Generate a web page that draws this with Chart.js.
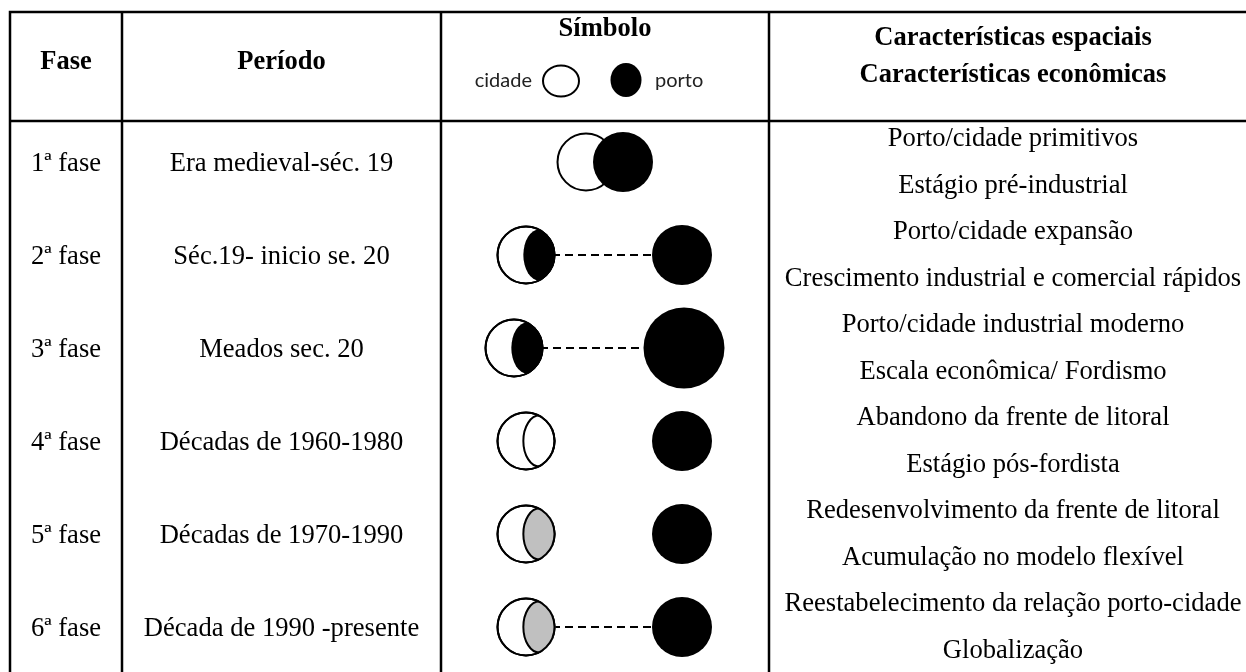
<!DOCTYPE html>
<html lang="pt">
<head>
<meta charset="utf-8">
<title>Fases da relação porto-cidade</title>
<script src="https://cdn.jsdelivr.net/npm/chart.js@4.4.1/dist/chart.umd.min.js"></script>
<style>
  html, body { margin: 0; padding: 0; background: #fff; }
  canvas { display: block; }
</style>
</head>
<body>
<canvas id="tabela" width="1246" height="672"></canvas>
<script>
// dados
const fases = ['1ª fase', '2ª fase', '3ª fase', '4ª fase', '5ª fase', '6ª fase'];
const periodos = ['Era medieval-séc. 19', 'Séc.19- inicio se. 20', 'Meados sec. 20',
                  'Décadas de 1960-1980', 'Décadas de 1970-1990', 'Década de 1990 -presente'];
const espaciais = ['Porto/cidade primitivos', 'Porto/cidade expansão', 'Porto/cidade industrial moderno',
                   'Abandono da frente de litoral', 'Redesenvolvimento da frente de litoral',
                   'Reestabelecimento da relação porto-cidade'];
const economicas = ['Estágio pré-industrial', 'Crescimento industrial e comercial rápidos',
                    'Escala econômica/ Fordismo', 'Estágio pós-fordista',
                    'Acumulação no modelo flexível', 'Globalização'];
// posição da cidade e do porto no eixo do símbolo (0 = meio da coluna)
const cidadeX = [-19, -79, -91, -79, -79, -79];
const portoX = [18, 77, 79, 77, 77, 77];
const portoTamanho = [1, 1, 1.35, 1, 1, 1];
const ligacao = [false, true, true, false, false, true];
const miolo = ['nenhum', 'preto', 'preto', 'contorno', 'cinza', 'cinza'];

const serif = "'Liberation Serif', 'Times New Roman', serif";
const raioCidade = 28.5;
const raioPorto = 30;

// linhas da tabela (px)
const bordaEsq = 10, bordaTopo = 12, fimCabecalho = 121;
const colunas = [122, 441, 769];
const centroFase = 66, centroPeriodo = 281.5, centroSimbolo = 605, centroCarac = 1013;

const linhasTabela = fases.map((f, i) => i);

const datasets = [];
linhasTabela.filter(i => ligacao[i]).forEach(i => {
  datasets.push({
    label: 'ligação ' + fases[i],
    data: [{ x: cidadeX[i], y: i }, { x: portoX[i], y: i }],
    showLine: true,
    borderColor: '#000',
    borderWidth: 2,
    borderDash: [8, 5],
    pointRadius: 0,
    order: 3
  });
});
datasets.push({
  label: 'cidade',
  data: linhasTabela.map(i => ({ x: cidadeX[i], y: i })),
  pointRadius: raioCidade,
  pointHoverRadius: raioCidade,
  backgroundColor: '#fff',
  borderColor: '#000',
  borderWidth: 2,
  order: 2
});
datasets.push({
  label: 'porto',
  data: linhasTabela.map(i => ({ x: portoX[i], y: i })),
  pointRadius: portoTamanho.map(t => t * raioPorto),
  pointHoverRadius: portoTamanho.map(t => t * raioPorto),
  backgroundColor: '#000',
  borderWidth: 0,
  order: 1
});

function texto(ctx, s, x, y, fonte) {
  ctx.font = fonte;
  ctx.fillText(s, x, y);
}

const tabela = {
  id: 'tabela',
  beforeDatasetsDraw(chart) {
    const ctx = chart.ctx;
    const y = chart.scales.y;
    ctx.save();
    ctx.strokeStyle = '#000';
    ctx.lineWidth = 2.5;
    ctx.beginPath();
    ctx.moveTo(bordaEsq - 1.25, bordaTopo);
    ctx.lineTo(chart.width, bordaTopo);
    ctx.moveTo(bordaEsq, fimCabecalho);
    ctx.lineTo(chart.width, fimCabecalho);
    [bordaEsq, ...colunas].forEach(x => {
      ctx.moveTo(x, bordaTopo);
      ctx.lineTo(x, chart.height);
    });
    ctx.stroke();

    ctx.fillStyle = '#000';
    ctx.textAlign = 'center';
    ctx.textBaseline = 'alphabetic';
    const negrito = 'bold 26.5px ' + serif;
    const normal = '26.6px ' + serif;
    texto(ctx, 'Fase', centroFase, 69, negrito);
    texto(ctx, 'Período', centroPeriodo, 69, negrito);
    texto(ctx, 'Símbolo', centroSimbolo, 36, negrito);
    texto(ctx, 'Características espaciais', centroCarac, 45, negrito);
    texto(ctx, 'Características econômicas', centroCarac, 82, negrito);

    // legenda do símbolo
    ctx.fillStyle = '#222';
    ctx.font = "20px Lato, 'Liberation Sans', sans-serif";
    ctx.textAlign = 'right';
    ctx.fillText('cidade', 532, 87);
    ctx.textAlign = 'left';
    ctx.fillText('porto', 655, 87);
    ctx.lineWidth = 2;
    ctx.beginPath();
    ctx.ellipse(561, 81, 18, 15.5, 0, 0, 2 * Math.PI);
    ctx.stroke();
    ctx.fillStyle = '#000';
    ctx.beginPath();
    ctx.ellipse(626, 80, 15.5, 17, 0, 0, 2 * Math.PI);
    ctx.fill();

    ctx.fillStyle = '#000';
    ctx.textAlign = 'center';
    linhasTabela.forEach(i => {
      const py = y.getPixelForValue(i);
      texto(ctx, fases[i], centroFase, py + 8.5, normal);
      texto(ctx, periodos[i], centroPeriodo, py + 8.5, normal);
      texto(ctx, espaciais[i], centroCarac, py - 16, normal);
      texto(ctx, economicas[i], centroCarac, py + 31, normal);
    });
    ctx.restore();
  },
  afterDatasetDraw(chart, args) {
    if (chart.data.datasets[args.index].label !== 'cidade') return;
    const ctx = chart.ctx;
    args.meta.data.forEach((pt, i) => {
      const tipo = miolo[i];
      if (tipo === 'nenhum') return;
      const r = raioCidade + 1;
      ctx.save();
      ctx.beginPath();
      ctx.arc(pt.x, pt.y, r, 0, 2 * Math.PI);
      ctx.clip();
      ctx.beginPath();
      ctx.ellipse(pt.x + r * 0.46, pt.y, r * 0.55, r * 0.87, 0, 0, 2 * Math.PI);
      ctx.lineWidth = 2;
      ctx.strokeStyle = '#000';
      if (tipo === 'preto') {
        ctx.fillStyle = '#000';
        ctx.fill();
      } else {
        if (tipo === 'cinza') {
          ctx.fillStyle = '#c0c0c0';
          ctx.fill();
        }
        ctx.stroke();
      }
      ctx.restore();
      ctx.save();
      ctx.beginPath();
      ctx.arc(pt.x, pt.y, raioCidade, 0, 2 * Math.PI);
      ctx.lineWidth = 2;
      ctx.strokeStyle = '#000';
      ctx.stroke();
      ctx.restore();
    });
  }
};

const chart = new Chart(document.getElementById('tabela').getContext('2d'), {
  type: 'scatter',
  data: { datasets: datasets },
  options: {
    responsive: false,
    animation: false,
    events: [],
    layout: { padding: 0, autoPadding: false },
    scales: {
      x: { type: 'linear', display: false, min: -centroSimbolo, max: 1246 - centroSimbolo, bounds: 'data' },
      y: { type: 'linear', display: false, reverse: true, min: -162 / 93, max: (672 - 162) / 93, bounds: 'data' }
    },
    plugins: {
      legend: { display: false },
      tooltip: { enabled: false }
    }
  },
  plugins: [tabela]
});
</script>
</body>
</html>
